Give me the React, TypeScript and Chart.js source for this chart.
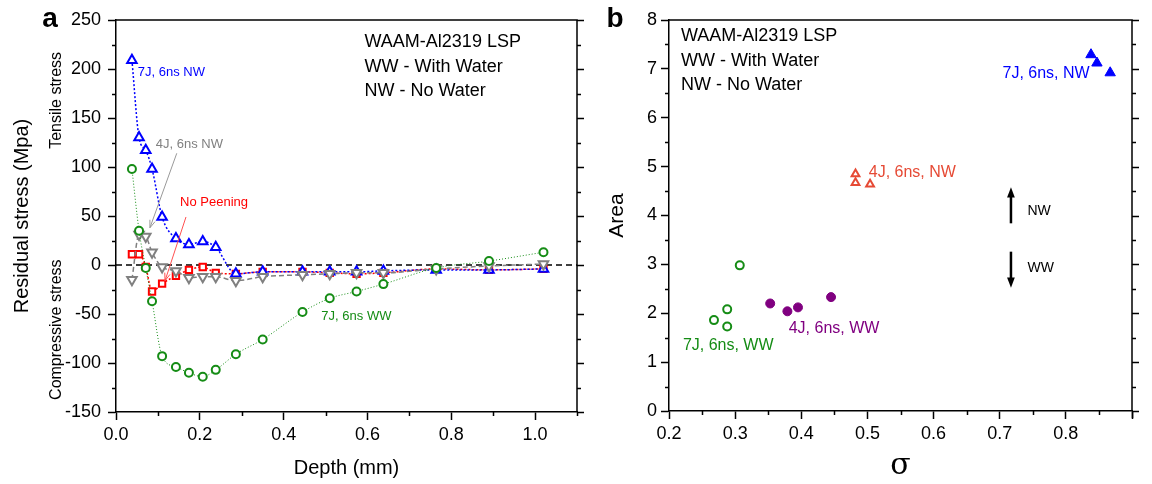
import React, { useEffect, useRef } from 'react';
import { Chart, registerables } from 'chart.js';

Chart.register(...registerables);

const FONT = '"Liberation Sans", Arial, Helvetica, sans-serif';
Chart.defaults.font.family = FONT;
Chart.defaults.color = '#000';

// ---------------- Panel a data ----------------
const depth = [0.038, 0.055, 0.071, 0.086, 0.11, 0.143, 0.174, 0.207, 0.238, 0.286, 0.35, 0.445, 0.51, 0.574, 0.638, 0.764, 0.89, 1.02];
const stressNW7J = [209, 130, 117, 98, 49, 27, 21, 24, 18, -9, -7, -7, -7, -7, -6, -5, -5, -4];
const stressWW7J = [98, 35, -3, -37, -93, -104, -110, -114, -107, -91, -76, -48, -34, -27, -19.5, -3, 4, 13];
const stressNoPeening = [11, 11, -2, -27, -19, -11, -5, -2, -8, -9, -7, -7, -8, -9, -8, -4, -5, -4];
const stressNW4J = [-15, 31, 29, 13, -2, -6, -13, -12, -12, -16, -12, -10, -9, -8, -8, -4, -1, 1];

const aXMin = 0, aXMax = 1.1, aXStep = 0.2, aXMinor = 0.1;
const aYMin = -150, aYMax = 250, aYStep = 50, aYMinor = 25;

// ---------------- Panel b data ----------------
const sigmaWW7J = [0.268, 0.288, 0.288, 0.307];
const areaWW7J = [1.86, 2.08, 1.73, 2.98];
const sigmaWW4J = [0.353, 0.379, 0.395, 0.445];
const areaWW4J = [2.2, 2.04, 2.12, 2.33];
const sigmaNW4J = [0.482, 0.482, 0.504];
const areaNW4J = [4.85, 4.67, 4.64];
const sigmaNW7J = [0.838, 0.847, 0.867];
const areaNW7J = [7.29, 7.12, 6.92];

const bXMin = 0.2, bXMax = 0.9, bXStep = 0.1, bXMinor = 0.05;
const bYMin = 0, bYMax = 8, bYStep = 1, bYMinor = 0.5;

// ---------------- annotations (data coordinates) ----------------
type Note = { text: string; x: number; y: number; color: string; size: number; align?: CanvasTextAlign };
const notesA: Note[] = [
  { text: 'WAAM-Al2319 LSP', x: 0.593, y: 228, color: '#000', size: 18 },
  { text: 'WW - With Water', x: 0.593, y: 202, color: '#000', size: 18 },
  { text: 'NW - No Water', x: 0.593, y: 178, color: '#000', size: 18 },
  { text: '7J, 6ns NW', x: 0.052, y: 196, color: '#0000ff', size: 13 },
  { text: '4J, 6ns NW', x: 0.095, y: 123, color: '#808080', size: 13 },
  { text: 'No Peening', x: 0.153, y: 64, color: '#ff0000', size: 13 },
  { text: '7J, 6ns WW', x: 0.49, y: -52, color: '#158c15', size: 13 },
];
type Arrow = { x1: number; y1: number; x2: number; y2: number; color: string; width: number; head: number; filled: boolean };
const arrowsA: Arrow[] = [
  { x1: 0.145, y1: 114, x2: 0.081, y2: 38, color: '#999999', width: 1, head: 8, filled: false },
  { x1: 0.167, y1: 49, x2: 0.117, y2: -16, color: '#ff5050', width: 1, head: 8, filled: false },
];
const notesB: Note[] = [
  { text: 'WAAM-Al2319 LSP', x: 0.218, y: 7.67, color: '#000', size: 18 },
  { text: 'WW - With Water', x: 0.218, y: 7.16, color: '#000', size: 18 },
  { text: 'NW - No Water', x: 0.218, y: 6.67, color: '#000', size: 18 },
  { text: '7J, 6ns, NW', x: 0.836, y: 6.9, color: '#0000ff', size: 16, align: 'right' },
  { text: '4J, 6ns, NW', x: 0.502, y: 4.88, color: '#e64a35', size: 16 },
  { text: '4J, 6ns, WW', x: 0.381, y: 1.69, color: '#800080', size: 16 },
  { text: '7J, 6ns, WW', x: 0.221, y: 1.33, color: '#158c15', size: 16 },
  { text: 'NW', x: 0.742, y: 4.08, color: '#000', size: 14 },
  { text: 'WW', x: 0.742, y: 2.92, color: '#000', size: 14 },
];
const arrowsB: Arrow[] = [
  { x1: 0.717, y1: 3.84, x2: 0.717, y2: 4.58, color: '#000', width: 2.5, head: 11, filled: true },
  { x1: 0.717, y1: 3.26, x2: 0.717, y2: 2.52, color: '#000', width: 2.5, head: 11, filled: true },
];

type SideText = { text: string; yValue: number; dx: number; size: number };
const sideA: SideText[] = [
  { text: 'Tensile stress', yValue: 168, dx: -59, size: 16 },
  { text: 'Compressive stress', yValue: -66, dx: -59, size: 16 },
];

function drawArrow(ctx: CanvasRenderingContext2D, x1: number, y1: number, x2: number, y2: number, a: Arrow) {
  const ang = Math.atan2(y2 - y1, x2 - x1);
  ctx.strokeStyle = a.color;
  ctx.fillStyle = a.color;
  ctx.lineWidth = a.width;
  ctx.beginPath();
  ctx.moveTo(x1, y1);
  const back = a.filled ? a.head * 0.7 : 0;
  ctx.lineTo(x2 - Math.cos(ang) * back, y2 - Math.sin(ang) * back);
  ctx.stroke();
  const spread = a.filled ? 0.36 : 0.35;
  const p1x = x2 + a.head * Math.cos(ang + Math.PI - spread);
  const p1y = y2 + a.head * Math.sin(ang + Math.PI - spread);
  const p2x = x2 + a.head * Math.cos(ang + Math.PI + spread);
  const p2y = y2 + a.head * Math.sin(ang + Math.PI + spread);
  ctx.beginPath();
  ctx.moveTo(p1x, p1y);
  ctx.lineTo(x2, y2);
  ctx.lineTo(p2x, p2y);
  if (a.filled) {
    ctx.closePath();
    ctx.fill();
  } else {
    ctx.stroke();
  }
}

function makeDecor(cfg: {
  xMin: number; xMax: number; xMinor: number; xStep: number;
  yMin: number; yMax: number; yMinor: number; yStep: number;
  notes: Note[]; arrows: Arrow[]; side: SideText[]; letter: string; letterDx: number;
}) {
  return {
    id: 'decor',
    afterDraw(chart: any) {
      const { ctx, chartArea: a, scales } = chart;
      const x = scales.x, y = scales.y;
      ctx.save();
      ctx.strokeStyle = '#000';
      ctx.lineWidth = 1.5;
      ctx.beginPath();
      ctx.moveTo(a.left, a.top);
      ctx.lineTo(a.right, a.top);
      ctx.lineTo(a.right, a.bottom);
      ctx.stroke();
      const isMajor = (v: number, step: number, base: number) => {
        const r = (v - base) / step;
        return Math.abs(r - Math.round(r)) < 1e-6;
      };
      ctx.beginPath();
      const ny = Math.round((cfg.yMax - cfg.yMin) / cfg.yMinor);
      for (let i = 0; i <= ny; i++) {
        const v = cfg.yMin + i * cfg.yMinor;
        const p = Math.round(y.getPixelForValue(v)) + 0.5;
        const major = isMajor(v, cfg.yStep, cfg.yMin);
        if (!major) {
          ctx.moveTo(a.left - 4, p);
          ctx.lineTo(a.left, p);
        }
        ctx.moveTo(a.right, p);
        ctx.lineTo(a.right + (major ? 7 : 4), p);
      }
      const nx = Math.round((cfg.xMax - cfg.xMin) / cfg.xMinor);
      for (let i = 0; i <= nx; i++) {
        const v = cfg.xMin + i * cfg.xMinor;
        const p = Math.round(x.getPixelForValue(v)) + 0.5;
        const major = isMajor(v, cfg.xStep, cfg.xMin);
        if (!major) {
          ctx.moveTo(p, a.bottom);
          ctx.lineTo(p, a.bottom + 4);
        } else if (Math.abs(v - cfg.xMax) < 1e-6) {
          ctx.moveTo(p, a.bottom);
          ctx.lineTo(p, a.bottom + 7);
        }
      }
      ctx.stroke();

      for (const ar of cfg.arrows) {
        drawArrow(ctx, x.getPixelForValue(ar.x1), y.getPixelForValue(ar.y1), x.getPixelForValue(ar.x2), y.getPixelForValue(ar.y2), ar);
      }
      ctx.textBaseline = 'middle';
      for (const n of cfg.notes) {
        ctx.font = `${n.size}px ${FONT}`;
        ctx.fillStyle = n.color;
        ctx.textAlign = n.align || 'left';
        ctx.fillText(n.text, x.getPixelForValue(n.x), y.getPixelForValue(n.y));
      }
      for (const s of cfg.side) {
        ctx.save();
        ctx.translate(a.left + s.dx, y.getPixelForValue(s.yValue));
        ctx.rotate(-Math.PI / 2);
        ctx.font = `${s.size}px ${FONT}`;
        ctx.fillStyle = '#000';
        ctx.textAlign = 'center';
        ctx.fillText(s.text, 0, 0);
        ctx.restore();
      }
      ctx.font = `bold 28px ${FONT}`;
      ctx.fillStyle = '#000';
      ctx.textAlign = 'center';
      ctx.fillText(cfg.letter, a.left + cfg.letterDx, a.top - 1);
      ctx.restore();
    },
  };
}

const pts = (xs: number[], ys: number[]) => xs.map((v, i) => ({ x: v, y: ys[i] }));

const axisCommon = {
  border: { display: true, color: '#000', width: 1.5 },
  grid: { display: true, drawOnChartArea: false, drawTicks: true, tickLength: 8, tickColor: '#000', tickWidth: 1.5 },
};

function lineDs(label: string, ys: number[], color: string, style: string, rotation: number, radius: number, dash: number[], lw: number) {
  return {
    label,
    data: pts(depth, ys),
    showLine: true,
    borderColor: color,
    borderWidth: lw,
    borderDash: dash,
    cubicInterpolationMode: 'monotone',
    pointStyle: style,
    pointRotation: rotation,
    pointRadius: radius,
    pointBorderWidth: 2,
    pointBorderColor: color,
    pointBackgroundColor: '#fff',
    backgroundColor: '#fff',
  };
}

function PanelA() {
  const ref = useRef<HTMLCanvasElement>(null);
  useEffect(() => {
    const chart = new Chart(ref.current!, {
      type: 'scatter',
      data: {
        datasets: [
          lineDs('7J, 6ns WW', stressWW7J, '#158c15', 'circle', 0, 4, [1, 2], 1),
          lineDs('4J, 6ns NW', stressNW4J, '#808080', 'triangle', 180, 5.5, [5, 3], 1.5),
          lineDs('7J, 6ns NW', stressNW7J, '#0000ff', 'triangle', 0, 5.5, [2, 2], 1.5),
          lineDs('No Peening', stressNoPeening, '#ff0000', 'rect', 0, 4.5, [2, 2], 1.5),
          {
            label: 'zero',
            data: [{ x: aXMin, y: 0 }, { x: aXMax, y: 0 }],
            showLine: true,
            borderColor: '#000',
            borderWidth: 1.3,
            borderDash: [6, 4],
            pointRadius: 0,
          },
        ] as any,
      },
      options: {
        animation: false,
        responsive: false,
        events: [],
        layout: { padding: { left: 0, right: 23, top: 20, bottom: 0 } },
        plugins: { legend: { display: false }, tooltip: { enabled: false } },
        scales: {
          x: {
            type: 'linear',
            min: aXMin,
            max: aXMax,
            ...axisCommon,
            ticks: { stepSize: aXStep, includeBounds: false, padding: 4, font: { size: 18 }, color: '#000', callback: (v: any) => Number(v).toFixed(1) },
            title: { display: true, text: 'Depth (mm)', font: { size: 20 }, color: '#000', padding: { top: 0, bottom: 4 } },
            afterFit: (s: any) => { s.height = 72; },
          },
          y: {
            type: 'linear',
            min: aYMin,
            max: aYMax,
            ...axisCommon,
            ticks: { stepSize: aYStep, padding: 7, font: { size: 18 }, color: '#000' },
            title: { display: true, text: 'Residual stress (Mpa)', font: { size: 20 }, color: '#000', padding: { top: 10, bottom: 0 } },
            afterFit: (s: any) => { s.width = 116; },
          },
        },
      } as any,
      plugins: [makeDecor({
        xMin: aXMin, xMax: aXMax, xMinor: aXMinor, xStep: aXStep,
        yMin: aYMin, yMax: aYMax, yMinor: aYMinor, yStep: aYStep,
        notes: notesA, arrows: arrowsA, side: sideA, letter: 'a', letterDx: -66,
      })],
    });
    return () => chart.destroy();
  }, []);
  return <canvas ref={ref} width={600} height={484} style={{ position: 'absolute', left: 0, top: 0 }} />;
}

function scatterDs(label: string, xs: number[], ys: number[], color: string, style: string, radius: number, filled: boolean) {
  return {
    label,
    data: pts(xs, ys),
    showLine: false,
    pointStyle: style,
    pointRadius: radius,
    pointBorderWidth: filled ? 1 : 2,
    pointBorderColor: color,
    pointBackgroundColor: filled ? color : '#fff',
  };
}

function PanelB() {
  const ref = useRef<HTMLCanvasElement>(null);
  useEffect(() => {
    const chart = new Chart(ref.current!, {
      type: 'scatter',
      data: {
        datasets: [
          scatterDs('7J, 6ns, NW', sigmaNW7J, areaNW7J, '#0000ff', 'triangle', 6, true),
          scatterDs('4J, 6ns, NW', sigmaNW4J, areaNW4J, '#e64a35', 'triangle', 4.5, false),
          scatterDs('4J, 6ns, WW', sigmaWW4J, areaWW4J, '#800080', 'circle', 4.5, true),
          scatterDs('7J, 6ns, WW', sigmaWW7J, areaWW7J, '#158c15', 'circle', 4, false),
        ] as any,
      },
      options: {
        animation: false,
        responsive: false,
        events: [],
        layout: { padding: { left: 0, right: 20, top: 20, bottom: 0 } },
        plugins: { legend: { display: false }, tooltip: { enabled: false } },
        scales: {
          x: {
            type: 'linear',
            min: bXMin,
            max: bXMax,
            ...axisCommon,
            ticks: { stepSize: bXStep, padding: 4, font: { size: 18 }, color: '#000', callback: (v: any) => (Number(v) > 0.85 ? '' : Number(v).toFixed(1)) },
            title: { display: true, text: 'σ', font: { size: 30, family: '"DejaVu Serif", "Liberation Serif", serif' }, color: '#000', padding: { top: 0, bottom: 0 } },
            afterFit: (s: any) => { s.height = 73; },
          },
          y: {
            type: 'linear',
            min: bYMin,
            max: bYMax,
            ...axisCommon,
            ticks: { stepSize: bYStep, padding: 4, font: { size: 18 }, color: '#000' },
            title: { display: true, text: 'Area', font: { size: 21 }, color: '#000', padding: { top: 5, bottom: 0 } },
            afterFit: (s: any) => { s.width = 69; },
          },
        },
      } as any,
      plugins: [makeDecor({
        xMin: bXMin, xMax: bXMax, xMinor: bXMinor, xStep: bXStep,
        yMin: bYMin, yMax: bYMax, yMinor: bYMinor, yStep: bYStep,
        notes: notesB, arrows: arrowsB, side: [], letter: 'b', letterDx: -54,
      })],
    });
    return () => chart.destroy();
  }, []);
  return <canvas ref={ref} width={552} height={484} style={{ position: 'absolute', left: 600, top: 0 }} />;
}

export default function App() {
  return (
    <div style={{ position: 'fixed', left: 0, top: 0, width: 1152, height: 484, background: '#fff', overflow: 'hidden' }}>
      <PanelA />
      <PanelB />
    </div>
  );
}
